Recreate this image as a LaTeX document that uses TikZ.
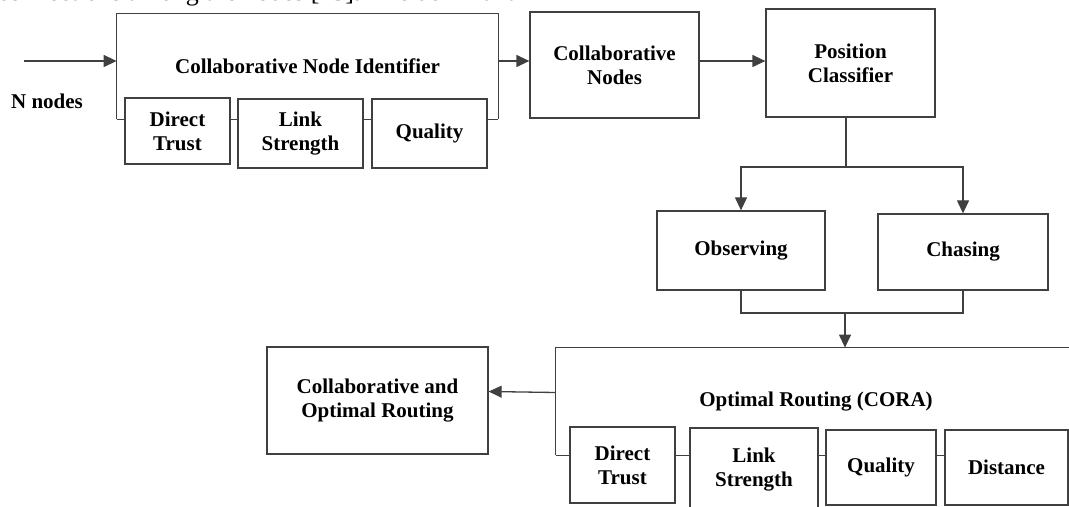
\documentclass[tikz,border=0pt]{standalone}
\usepackage{fontspec}
\setmainfont{Liberation Serif}
\usetikzlibrary{arrows.meta}

\begin{document}
\begin{tikzpicture}[x=0.5pt,y=-0.5pt,
    blockbox/.style={draw=black!75, line width=0.65pt, align=center, inner sep=0pt,
      font=\bfseries\fontsize{10.5}{12}\selectfont},
    plain/.style={align=center, inner sep=0pt, font=\bfseries\fontsize{10.5}{12}\selectfont},
    wire/.style={draw=black!75, line width=0.65pt},
    flowarrow/.style={wire, -{Triangle[length=6.5pt,width=6pt]}}]
  \useasboundingbox (0,0) rectangle (1069,507);
  \clip (0,0) rectangle (1069,507);

  % text of the page, cut at the top
  \node[anchor=base west, inner sep=0pt, font=\fontsize{13}{15}\selectfont] (cut) at (-3,1) {connections among the nodes [23]. The dominant};

  % Collaborative node identifier
  \node[plain, minimum width=190.5pt, minimum height=52.5pt] (cni) at (307.5,66.5) {Collaborative Node Identifier};
  \node[blockbox, minimum width=52.5pt, minimum height=33pt] (dt1) at (177.5,131) {Direct\\Trust};
  \node[blockbox, minimum width=62.5pt, minimum height=34.5pt] (ls1) at (300.5,133.5) {Link\\Strength};
  \node[blockbox, minimum width=57.5pt, minimum height=34.5pt] (q1) at (429.5,133.5) {Quality};
  \node[plain] (nn) at (47,101) {N nodes};
  \coordinate (nin) at (24,61);

  \node[blockbox, minimum width=84.5pt, minimum height=53pt] (cn) at (614.5,65) {Collaborative\\Nodes};
  \node[blockbox, minimum width=84.5pt, minimum height=54pt] (pc) at (850.5,63) {Position\\Classifier};
  \node[blockbox, minimum width=84pt, minimum height=39.5pt] (obs) at (741,250.5) {Observing};
  \node[blockbox, minimum width=85pt, minimum height=38pt] (cha) at (963,252) {Chasing};
  \coordinate (split) at (846,167);
  \coordinate (merge) at (845,313);

  % Optimal routing
  \node[plain, minimum width=260pt, minimum height=53.5pt] (cora) at (816,401.5) {Optimal Routing (CORA)};
  \node[blockbox, minimum width=52.5pt, minimum height=38pt] (dt2) at (622.5,465) {Direct\\Trust};
  \node[blockbox, minimum width=64pt, minimum height=42pt] (ls2) at (754,470) {Link\\Strength};
  \node[blockbox, minimum width=55pt, minimum height=37.5pt] (q2) at (881,467.5) {Quality};
  \node[blockbox, minimum width=61.5pt, minimum height=37.5pt] (dist) at (1006.5,467.5) {Distance};
  \node[blockbox, minimum width=110.5pt, minimum height=53.5pt] (caor) at (377.5,400.5) {Collaborative and\\Optimal Routing};

  % open frames
  \draw[wire] (cni.south west) -- (cni.north west) -- (cni.north east) -- (cni.south east);
  \draw[wire] (cora.south west) -- (cora.north west) -- (cora.north east) -- (cora.south east);
  \draw[wire] (cni.south west) -- (cni.south west -| dt1.west);
  \draw[wire] (q1.east |- cni.south) -- (cni.south east);
  \foreach \a/\b in {dt1/ls1, ls1/q1}
    \draw[wire] (\a.east |- cni.south) -- (\b.west |- cni.south);
  \draw[wire] (cora.south west) -- (cora.south west -| dt2.west);
  \foreach \a/\b in {dt2/ls2, ls2/q2, q2/dist}
    \draw[wire] (\a.east |- cora.south) -- (\b.west |- cora.south);

  % Flow
  \draw[flowarrow] (nin) -- (nin -| cni.west);
  \draw[flowarrow] (cni.east |- nin) -- (cn.west |- nin);
  \draw[flowarrow] (cn.east |- nin) -- (pc.west |- nin);
  \draw[wire] (pc.south -| split) -- (split);
  \draw[flowarrow] (split) -| (obs.north);
  \draw[flowarrow] (split) -| (cha.north);
  \draw[wire] (obs.south) |- (merge) -| (cha.south);
  \draw[flowarrow] (merge) -- (merge |- cora.north);
  \draw[flowarrow] ([yshift=4.5pt]cora.west) -- ([yshift=4.5pt]caor.east);
\end{tikzpicture}
\end{document}
